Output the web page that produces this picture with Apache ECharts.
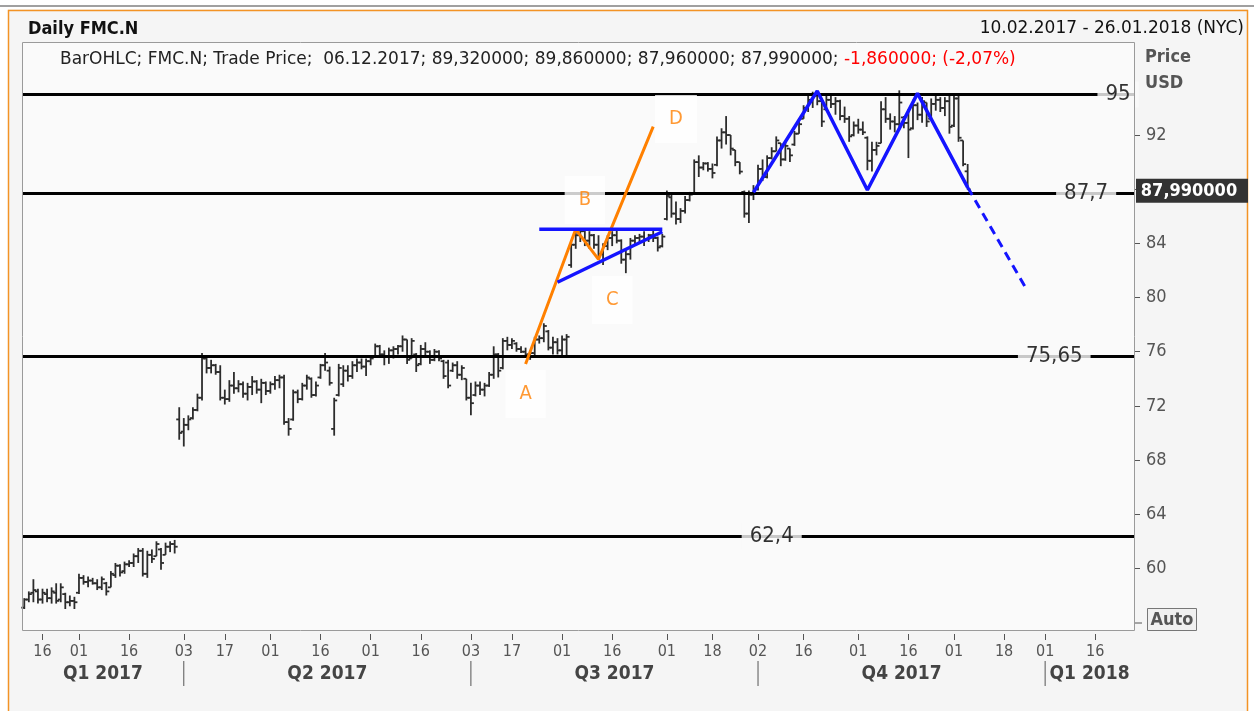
<!DOCTYPE html>
<html>
<head>
<meta charset="utf-8">
<title>Daily FMC.N</title>
<script src="https://cdn.jsdelivr.net/npm/echarts@6/dist/echarts.min.js"></script>
<style>
    html, body { margin: 0; padding: 0; background: #fff; }
    #chart { width: 1254px; height: 711px; }
</style>
</head>
<body>
<div id="chart"></div>
<script>
    var FONT = '"DejaVu Sans Condensed", "DejaVu Sans", sans-serif';
    var WIDE = '"DejaVu Sans", sans-serif';

    // trading calendar (exchange holidays up to the last bar, plus christmas)
    var firstDay = '2017-02-10', lastDay = '2018-01-26';
    var holidays = ['2017-02-20', '2017-04-14', '2017-05-29', '2017-07-04', '2017-09-04', '2017-11-23', '2017-12-25'];

    var tickDays = ['2017-02-16', '2017-03-01', '2017-03-16', '2017-04-03', '2017-04-17', '2017-05-01', '2017-05-16',
        '2017-06-01', '2017-06-16', '2017-07-03', '2017-07-17', '2017-08-01', '2017-08-16', '2017-09-01', '2017-09-18',
        '2017-10-02', '2017-10-16', '2017-11-01', '2017-11-16', '2017-12-01', '2017-12-18', '2018-01-01', '2018-01-16'];
    var quarterStarts = ['2017-04-03', '2017-07-03', '2017-10-02', '2018-01-01'];
    var quarterNames = ['Q1 2017', 'Q2 2017', 'Q3 2017', 'Q4 2017', 'Q1 2018'];
    var priceTicks = [60, 64, 68, 72, 76, 80, 84, 88, 92];

    // daily bars, 10.02.2017 .. 06.12.2017
    var open = [
        57.1, 57.7, 58.2, 58.3, 57.7, 58.1, 57.8, 58.2, 57.7, 58.1,
        57.5, 57.6, 58.2, 59.3, 59.0, 59.1, 58.9, 58.6, 58.9, 58.6,
        59.5, 60.2, 59.8, 60.3, 60.4, 60.9, 61.3, 59.6, 61.0, 60.9,
        61.4, 61.0, 61.6, 61.8, 71.0, 70.1, 70.6, 71.1, 71.7, 72.6,
        75.5, 74.8, 75.0, 74.5, 72.6, 72.5, 73.5, 73.3, 73.6, 72.9,
        73.4, 73.8, 73.2, 73.7, 73.1, 73.6, 73.9, 74.1, 70.8, 71.0,
        73.0, 72.5, 73.5, 74.0, 72.8, 74.1, 75.0, 74.6, 70.3, 72.8,
        73.6, 74.6, 74.2, 75.0, 75.2, 74.9, 75.3, 75.6, 76.4, 75.8,
        75.6, 76.1, 76.2, 76.4, 76.9, 75.5, 75.8, 75.1, 76.2, 76.0,
        75.4, 76.0, 75.3, 75.2, 74.6, 75.0, 74.3, 74.0, 72.6, 72.8,
        73.5, 73.2, 73.5, 74.3, 75.8, 74.8, 76.8, 76.5, 76.6, 76.2,
        76.0, 75.8, 75.9, 76.9, 77.0, 77.5, 76.3, 76.7, 76.1, 76.9,
        82.4, 83.9, 84.6, 84.9, 84.2, 84.6, 83.9, 83.2, 83.8, 84.4,
        84.6, 84.2, 82.8, 83.2, 84.2, 84.4, 84.5, 84.3, 84.6, 84.4,
        83.8, 85.8, 87.4, 86.2, 85.8, 86.4, 87.2, 87.7, 90.0, 89.6,
        89.9, 89.5, 89.8, 91.6, 92.2, 92.0, 90.9, 90.0, 87.8, 86.2,
        87.6, 88.0, 89.5, 88.9, 90.3, 90.8, 91.4, 90.2, 91.0, 91.3,
        92.1, 93.2, 94.0, 94.6, 94.9, 94.5, 93.9, 94.6, 94.3, 94.5,
        93.4, 93.2, 92.0, 92.7, 92.4, 91.8, 90.1, 90.9, 91.4, 93.9,
        93.2, 93.0, 92.8, 93.3, 92.9, 92.5, 94.2, 93.5, 94.4, 93.2,
        94.3, 94.6, 94.0, 94.5, 92.7, 94.7, 91.6, 89.32
    ];
    var high = [
        57.8, 58.3, 59.2, 58.5, 58.5, 58.5, 58.6, 58.9, 58.9, 58.2,
        58.0, 57.9, 59.6, 59.5, 59.4, 59.3, 59.2, 59.4, 59.0, 59.8,
        60.4, 60.3, 60.5, 60.6, 61.1, 61.5, 61.5, 61.3, 61.4, 62.0,
        61.5, 61.9, 62.0, 62.1, 71.9, 71.1, 71.3, 71.9, 72.9, 75.9,
        75.7, 75.4, 75.1, 75.0, 73.2, 73.9, 74.5, 73.9, 73.8, 73.7,
        74.2, 73.9, 74.0, 73.8, 73.8, 74.2, 74.3, 74.3, 71.1, 73.2,
        73.2, 73.7, 74.3, 74.1, 73.8, 75.1, 75.9, 74.9, 72.6, 75.1,
        75.0, 75.0, 75.3, 75.5, 75.5, 75.5, 75.6, 76.6, 76.5, 76.1,
        76.3, 76.4, 76.5, 77.2, 76.9, 77.0, 75.9, 76.5, 76.7, 76.1,
        76.2, 76.1, 75.4, 75.4, 75.2, 75.3, 75.0, 74.0, 73.7, 73.8,
        73.8, 73.7, 74.5, 76.4, 75.9, 77.0, 77.1, 77.0, 76.7, 76.4,
        76.3, 76.1, 77.1, 77.2, 78.1, 77.6, 77.1, 77.0, 77.2, 77.3,
        84.1, 84.9, 85.1, 85.0, 84.9, 84.7, 84.6, 84.0, 84.6, 84.9,
        85.0, 84.3, 83.6, 84.4, 84.6, 84.7, 84.9, 84.7, 85.0, 84.5,
        84.7, 87.9, 87.6, 87.1, 86.6, 87.5, 87.8, 90.2, 90.5, 90.0,
        90.0, 89.9, 91.9, 92.5, 93.4, 92.0, 90.9, 90.0, 87.9, 87.9,
        88.3, 89.8, 90.2, 90.5, 91.1, 91.9, 91.4, 91.5, 91.0, 92.3,
        93.0, 94.2, 95.0, 95.2, 95.1, 94.7, 95.0, 94.9, 94.8, 94.6,
        94.1, 93.4, 93.0, 93.2, 93.0, 91.9, 91.5, 91.5, 94.5, 94.8,
        93.6, 93.4, 95.3, 93.4, 93.9, 94.6, 94.4, 94.8, 94.4, 94.7,
        95.0, 94.8, 94.8, 95.0, 95.0, 95.0, 91.6, 89.86
    ];
    var low = [
        57.0, 57.5, 57.5, 57.4, 57.4, 57.5, 57.4, 57.4, 57.5, 57.0,
        57.2, 57.0, 58.1, 58.8, 58.6, 58.8, 58.4, 58.4, 58.0, 58.6,
        59.3, 59.4, 59.6, 60.1, 60.1, 60.4, 59.4, 59.3, 60.4, 60.9,
        59.9, 61.0, 61.2, 61.1, 69.5, 69.0, 70.2, 71.0, 71.6, 72.4,
        74.4, 74.4, 74.3, 72.4, 72.1, 72.3, 72.9, 73.0, 72.6, 72.4,
        72.8, 72.9, 72.2, 72.8, 72.9, 73.2, 73.3, 70.6, 69.8, 70.9,
        72.2, 72.4, 73.2, 72.6, 72.7, 74.0, 74.6, 73.5, 69.8, 72.7,
        73.4, 73.8, 74.0, 74.5, 74.7, 74.2, 75.0, 75.6, 75.6, 75.0,
        75.1, 75.5, 75.8, 76.0, 75.1, 75.5, 74.5, 75.0, 75.6, 75.1,
        75.3, 75.3, 74.0, 73.3, 74.5, 74.0, 73.9, 72.4, 71.3, 72.7,
        72.8, 72.7, 73.4, 74.0, 74.1, 74.7, 76.1, 76.2, 76.0, 75.9,
        75.6, 75.4, 75.6, 76.6, 76.7, 76.1, 75.8, 75.8, 75.6, 75.7,
        82.2, 83.6, 84.1, 83.8, 83.6, 83.6, 83.0, 82.4, 83.5, 83.8,
        84.0, 82.5, 81.8, 82.8, 83.8, 84.0, 83.8, 84.1, 84.1, 83.4,
        83.7, 85.7, 85.9, 85.4, 85.5, 86.2, 87.1, 87.6, 88.9, 89.4,
        89.3, 88.8, 89.7, 91.0, 91.3, 90.5, 89.7, 89.1, 85.9, 85.5,
        87.2, 87.9, 88.6, 88.8, 90.2, 90.8, 89.7, 90.1, 90.0, 91.2,
        92.1, 93.2, 93.7, 94.0, 94.2, 92.6, 93.8, 94.0, 93.5, 93.1,
        92.9, 91.5, 91.9, 92.1, 92.0, 89.4, 89.3, 90.5, 91.4, 92.9,
        92.4, 92.2, 92.6, 92.5, 90.3, 92.4, 93.1, 92.9, 92.6, 93.1,
        93.8, 93.7, 93.4, 92.1, 92.6, 91.5, 89.7, 87.96
    ];
    var close = [
        57.7, 58.1, 58.4, 57.7, 58.2, 57.8, 58.3, 57.6, 58.6, 57.5,
        57.6, 57.5, 59.3, 59.0, 59.1, 58.9, 58.6, 59.2, 58.3, 59.6,
        60.2, 59.7, 60.3, 60.4, 60.9, 61.3, 59.6, 61.0, 60.7, 61.8,
        60.4, 61.6, 61.8, 61.6, 70.0, 70.6, 71.0, 71.7, 72.6, 75.5,
        74.8, 75.0, 74.5, 72.6, 72.5, 73.5, 73.3, 73.6, 72.9, 73.4,
        73.8, 73.2, 73.7, 73.1, 73.6, 73.9, 74.1, 70.8, 70.3, 73.0,
        72.5, 73.5, 74.1, 72.8, 73.5, 75.0, 75.2, 73.7, 72.4, 74.8,
        74.6, 74.2, 75.0, 75.2, 74.9, 75.3, 75.5, 76.4, 75.8, 75.6,
        76.1, 76.2, 76.4, 76.9, 75.4, 76.8, 75.0, 76.2, 76.0, 75.4,
        76.0, 75.5, 74.2, 73.5, 75.0, 74.3, 74.8, 72.6, 72.2, 73.5,
        73.2, 73.5, 74.3, 75.8, 74.6, 76.8, 76.5, 76.8, 76.2, 76.0,
        75.8, 75.9, 76.9, 77.0, 77.9, 76.3, 76.7, 76.1, 76.9, 77.1,
        83.9, 84.6, 84.9, 84.2, 84.6, 83.9, 83.2, 83.8, 84.4, 84.6,
        84.2, 82.8, 83.2, 84.2, 84.4, 84.5, 84.3, 84.6, 84.4, 83.7,
        84.5, 87.5, 86.2, 85.8, 86.4, 87.2, 87.6, 90.0, 89.6, 89.9,
        89.5, 89.2, 91.6, 92.2, 92.0, 91.0, 90.0, 89.3, 86.2, 87.6,
        88.0, 89.5, 88.9, 90.3, 90.8, 91.6, 90.2, 91.2, 90.5, 92.1,
        92.8, 94.0, 94.6, 94.9, 94.5, 93.0, 94.6, 94.3, 94.5, 93.4,
        93.2, 91.9, 92.7, 92.4, 92.2, 90.1, 90.9, 91.2, 93.9, 93.2,
        93.0, 92.8, 94.4, 92.9, 92.4, 94.2, 93.5, 94.5, 93.0, 94.3,
        94.6, 94.0, 94.5, 92.6, 94.7, 91.8, 89.85, 87.99
    ];

    // drawn studies
    var levels = [95, 87.7, 75.65, 62.4];
    var levelTags = [['2018-01-23', 95, '95'], ['2018-01-12', 87.7, '87,7'], ['2018-01-03', 75.65, '75,65'], ['2017-10-05', 62.4, '62,4']];
    var abcdPath = [['2017-07-20', 75.09], ['2017-08-04', 85.04], ['2017-08-11', 82.82], ['2017-08-29', 92.62]];
    var abcdTags = [['2017-07-20', 72.88, 'A'], ['2017-08-08', 87.2, 'B'], ['2017-08-16', 79.82, 'C'], ['2017-09-06', 93.19, 'D']];
    var triangleTop = [['2017-07-25', 85.05], ['2017-08-31', 85.05]];
    var triangleLow = [['2017-07-31', 81.13], ['2017-08-31', 84.86]];
    var doubleTop = [['2017-09-29', 87.77], ['2017-10-19', 95.25], ['2017-11-03', 87.94], ['2017-11-20', 95.08], ['2017-12-06', 88.14]];
    var projection = [['2017-12-06', 88.14], ['2017-12-26', 80.56]];

    function pad(n) { return n < 10 ? '0' + n : '' + n; }
    function buildDates() {
        var out = [];
        var d = new Date(firstDay + 'T00:00:00Z');
        var end = new Date(lastDay + 'T00:00:00Z');
        while (d <= end) {
            var s = d.getUTCFullYear() + '-' + pad(d.getUTCMonth() + 1) + '-' + pad(d.getUTCDate());
            var wd = d.getUTCDay();
            if (wd !== 0 && wd !== 6 && holidays.indexOf(s) < 0) out.push(s);
            d.setUTCDate(d.getUTCDate() + 1);
        }
        return out;
    }
    function fmt6(v) { return v.toFixed(6).replace('.', ','); }

    var dates = buildDates();
    var bars = open.map(function (o, i) { return [i, o, high[i], low[i], close[i]]; });
    var last = bars.length - 1;
    var chg = close[last] - close[last - 1];
    var chgPct = chg / close[last - 1] * 100;

    function renderOHLC(params, api) {
        var i = api.value(0);
        var op = api.coord([i, api.value(1)]);
        var hi = api.coord([i, api.value(2)]);
        var lo = api.coord([i, api.value(3)]);
        var cl = api.coord([i, api.value(4)]);
        var x = hi[0];
        var t = 3;
        function st() { return { stroke: '#2c2c2c', lineWidth: 1.8 }; }
        return {
            type: 'group',
            children: [
                { type: 'line', shape: { x1: x, y1: hi[1], x2: x, y2: lo[1] }, style: st() },
                { type: 'line', shape: { x1: x - t, y1: op[1], x2: x, y2: op[1] }, style: st() },
                { type: 'line', shape: { x1: x, y1: cl[1], x2: x + t, y2: cl[1] }, style: st() }
            ]
        };
    }

    var tickSet = {};
    tickDays.forEach(function (d) { tickSet[d] = true; });
    function isTick(idx, val) { return !!tickSet[val]; }

    var chart = echarts.init(document.getElementById('chart'));
    chart.setOption({
        animation: false,
        backgroundColor: '#f5f5f5',
        grid: {
            left: 22, right: 120, top: 42, bottom: 81,
            show: true, backgroundColor: '#fafafa', borderWidth: 0,
            containLabel: false, outerBoundsMode: 'none'
        },
        xAxis: {
            type: 'category',
            data: dates,
            offset: 4,
            axisLine: { show: false },
            axisTick: { show: true, interval: isTick, alignWithLabel: true, length: 6, lineStyle: { color: '#555' } },
            axisLabel: {
                interval: isTick, hideOverlap: false, margin: 10,
                color: '#555', fontFamily: FONT, fontSize: 16,
                formatter: function (v) { return v.slice(8); }
            },
            splitLine: { show: false }
        },
        yAxis: {
            type: 'value',
            position: 'right',
            min: 55.45, max: 98.87,
            axisLine: { show: false },
            axisTick: { show: true, customValues: priceTicks, length: 6, lineStyle: { color: '#555' } },
            axisLabel: { customValues: priceTicks, color: '#555', fontFamily: FONT, fontSize: 18, margin: 12 },
            splitLine: { show: false }
        },
        series: [
            {
                name: 'FMC.N',
                type: 'custom',
                renderItem: renderOHLC,
                encode: { x: 0, y: [1, 2, 3, 4] },
                data: bars,
                z: 2,
                markLine: {
                    silent: true,
                    symbol: ['none', 'none'],
                    label: { show: false },
                    lineStyle: { color: '#000', width: 3, type: 'solid' },
                    data: levels.map(function (v) { return { yAxis: v }; })
                }
            },
            {
                type: 'line', data: abcdPath, symbol: 'none', z: 5,
                lineStyle: { color: '#ff8000', width: 3 }
            },
            {
                type: 'line', data: triangleTop, symbol: 'none', z: 5,
                lineStyle: { color: '#1414ff', width: 3.5 }
            },
            {
                type: 'line', data: triangleLow, symbol: 'none', z: 5,
                lineStyle: { color: '#1414ff', width: 3.5 }
            },
            {
                type: 'line', data: doubleTop, symbol: 'none', z: 5,
                lineStyle: { color: '#1414ff', width: 3.5 }
            },
            {
                type: 'line', data: projection, symbol: 'none', z: 5,
                lineStyle: { color: '#1414ff', width: 3, type: [9, 6] }
            },
            {
                type: 'scatter', z: 6, silent: true,
                symbolSize: 1, itemStyle: { color: 'rgba(0,0,0,0)' },
                data: levelTags.map(function (t) { return { value: [t[0], t[1]], name: t[2] }; }),
                label: {
                    show: true, position: 'inside', formatter: '{b}',
                    color: '#000', fontFamily: FONT, fontSize: 22,
                    backgroundColor: '#fafafa', padding: [2, 8]
                }
            },
            {
                type: 'scatter', z: 6, silent: true,
                symbolSize: 1, itemStyle: { color: 'rgba(0,0,0,0)' },
                data: abcdTags.map(function (t) { return { value: [t[0], t[1]], name: t[2] }; }),
                label: {
                    show: true, position: 'inside', formatter: '{b}',
                    color: '#ff8000', fontFamily: FONT, fontSize: 20,
                    backgroundColor: '#ffffff', padding: [14, 14]
                }
            }
        ]
    });

    // frame, captions and boxes around the plot
    var sepX = quarterStarts.map(function (d) { return chart.convertToPixel({ xAxisIndex: 0 }, d); });
    var bounds = [22].concat(sepX, [1134]);
    var lastY = chart.convertToPixel({ yAxisIndex: 0 }, close[last]);

    var g = [
        { type: 'rect', shape: { x: 0, y: 0, width: 1254, height: 9 }, style: { fill: '#fff' }, z: 50 },
        { type: 'rect', shape: { x: 0, y: 0, width: 8, height: 711 }, style: { fill: '#fff' }, z: 50 },
        { type: 'rect', shape: { x: 1248, y: 0, width: 6, height: 711 }, style: { fill: '#fff' }, z: 50 },
        { type: 'line', shape: { x1: 0, y1: 6, x2: 1254, y2: 6 }, style: { stroke: '#a0a0a0', lineWidth: 2 }, z: 51 },
        { type: 'polyline', shape: { points: [[8.5, 720], [8.5, 10.5], [1247.5, 10.5], [1247.5, 720]] },
            style: { stroke: '#f39325', lineWidth: 1.5, fill: null }, z: 51 },
        { type: 'rect', shape: { x: 22.5, y: 42.5, width: 1112, height: 588 },
            style: { stroke: '#9a9a9a', lineWidth: 1, fill: null }, z: 100 },
        { type: 'text', x: 28, y: 29, z: 100,
            style: { text: 'Daily FMC.N', fontFamily: FONT, fontWeight: 'bold', fontSize: 18, fill: '#111', verticalAlign: 'middle' } },
        { type: 'text', x: 1244, y: 29, z: 100,
            style: { text: '10.02.2017 - 26.01.2018 (NYC)', fontFamily: WIDE, fontSize: 17, fill: '#111', align: 'right', verticalAlign: 'middle' } },
        { type: 'text', x: 60, y: 60, z: 100,
            style: {
                text: '{k|BarOHLC; FMC.N; Trade Price;  06.12.2017; ' + fmt6(open[last]) + '; ' + fmt6(high[last]) + '; ' +
                    fmt6(low[last]) + '; ' + fmt6(close[last]) + '; }{r|' + fmt6(chg) + '; (' + chgPct.toFixed(2).replace('.', ',') + '%)}',
                verticalAlign: 'middle',
                rich: {
                    k: { fontFamily: WIDE, fontSize: 17, fill: '#222' },
                    r: { fontFamily: WIDE, fontSize: 17, fill: '#ff0000' }
                }
            } },
        { type: 'text', x: 1145, y: 57, z: 100,
            style: { text: 'Price', fontFamily: FONT, fontWeight: 'bold', fontSize: 18, fill: '#555', verticalAlign: 'middle' } },
        { type: 'text', x: 1145, y: 83, z: 100,
            style: { text: 'USD', fontFamily: FONT, fontWeight: 'bold', fontSize: 18, fill: '#555', verticalAlign: 'middle' } },
        { type: 'rect', shape: { x: 1136, y: lastY - 10.5, width: 112, height: 24 }, style: { fill: '#333' }, z: 100 },
        { type: 'text', x: 1189, y: lastY + 1.5, z: 101,
            style: { text: fmt6(close[last]), fontFamily: FONT, fontWeight: 'bold', fontSize: 18, fill: '#fff', align: 'center', verticalAlign: 'middle' } },
        { type: 'line', shape: { x1: 1135, y1: 623, x2: 1142, y2: 623 }, style: { stroke: '#555', lineWidth: 1 }, z: 100 },
        { type: 'rect', shape: { x: 1147.5, y: 608.5, width: 49, height: 22 }, style: { fill: '#f0f0f0', stroke: '#777', lineWidth: 1 }, z: 100 },
        { type: 'text', x: 1172, y: 620, z: 101,
            style: { text: 'Auto', fontFamily: FONT, fontWeight: 'bold', fontSize: 18, fill: '#555', align: 'center', verticalAlign: 'middle' } }
    ];
    sepX.forEach(function (x) {
        g.push({ type: 'line', shape: { x1: x, y1: 661, x2: x, y2: 686 }, style: { stroke: '#555', lineWidth: 1 }, z: 100 });
    });
    quarterNames.forEach(function (name, k) {
        g.push({ type: 'text', x: (bounds[k] + bounds[k + 1]) / 2, y: 674, z: 100,
            style: { text: name, fontFamily: FONT, fontWeight: 'bold', fontSize: 19, fill: '#444', align: 'center', verticalAlign: 'middle' } });
    });
    chart.setOption({ graphic: g });
</script>
</body>
</html>
